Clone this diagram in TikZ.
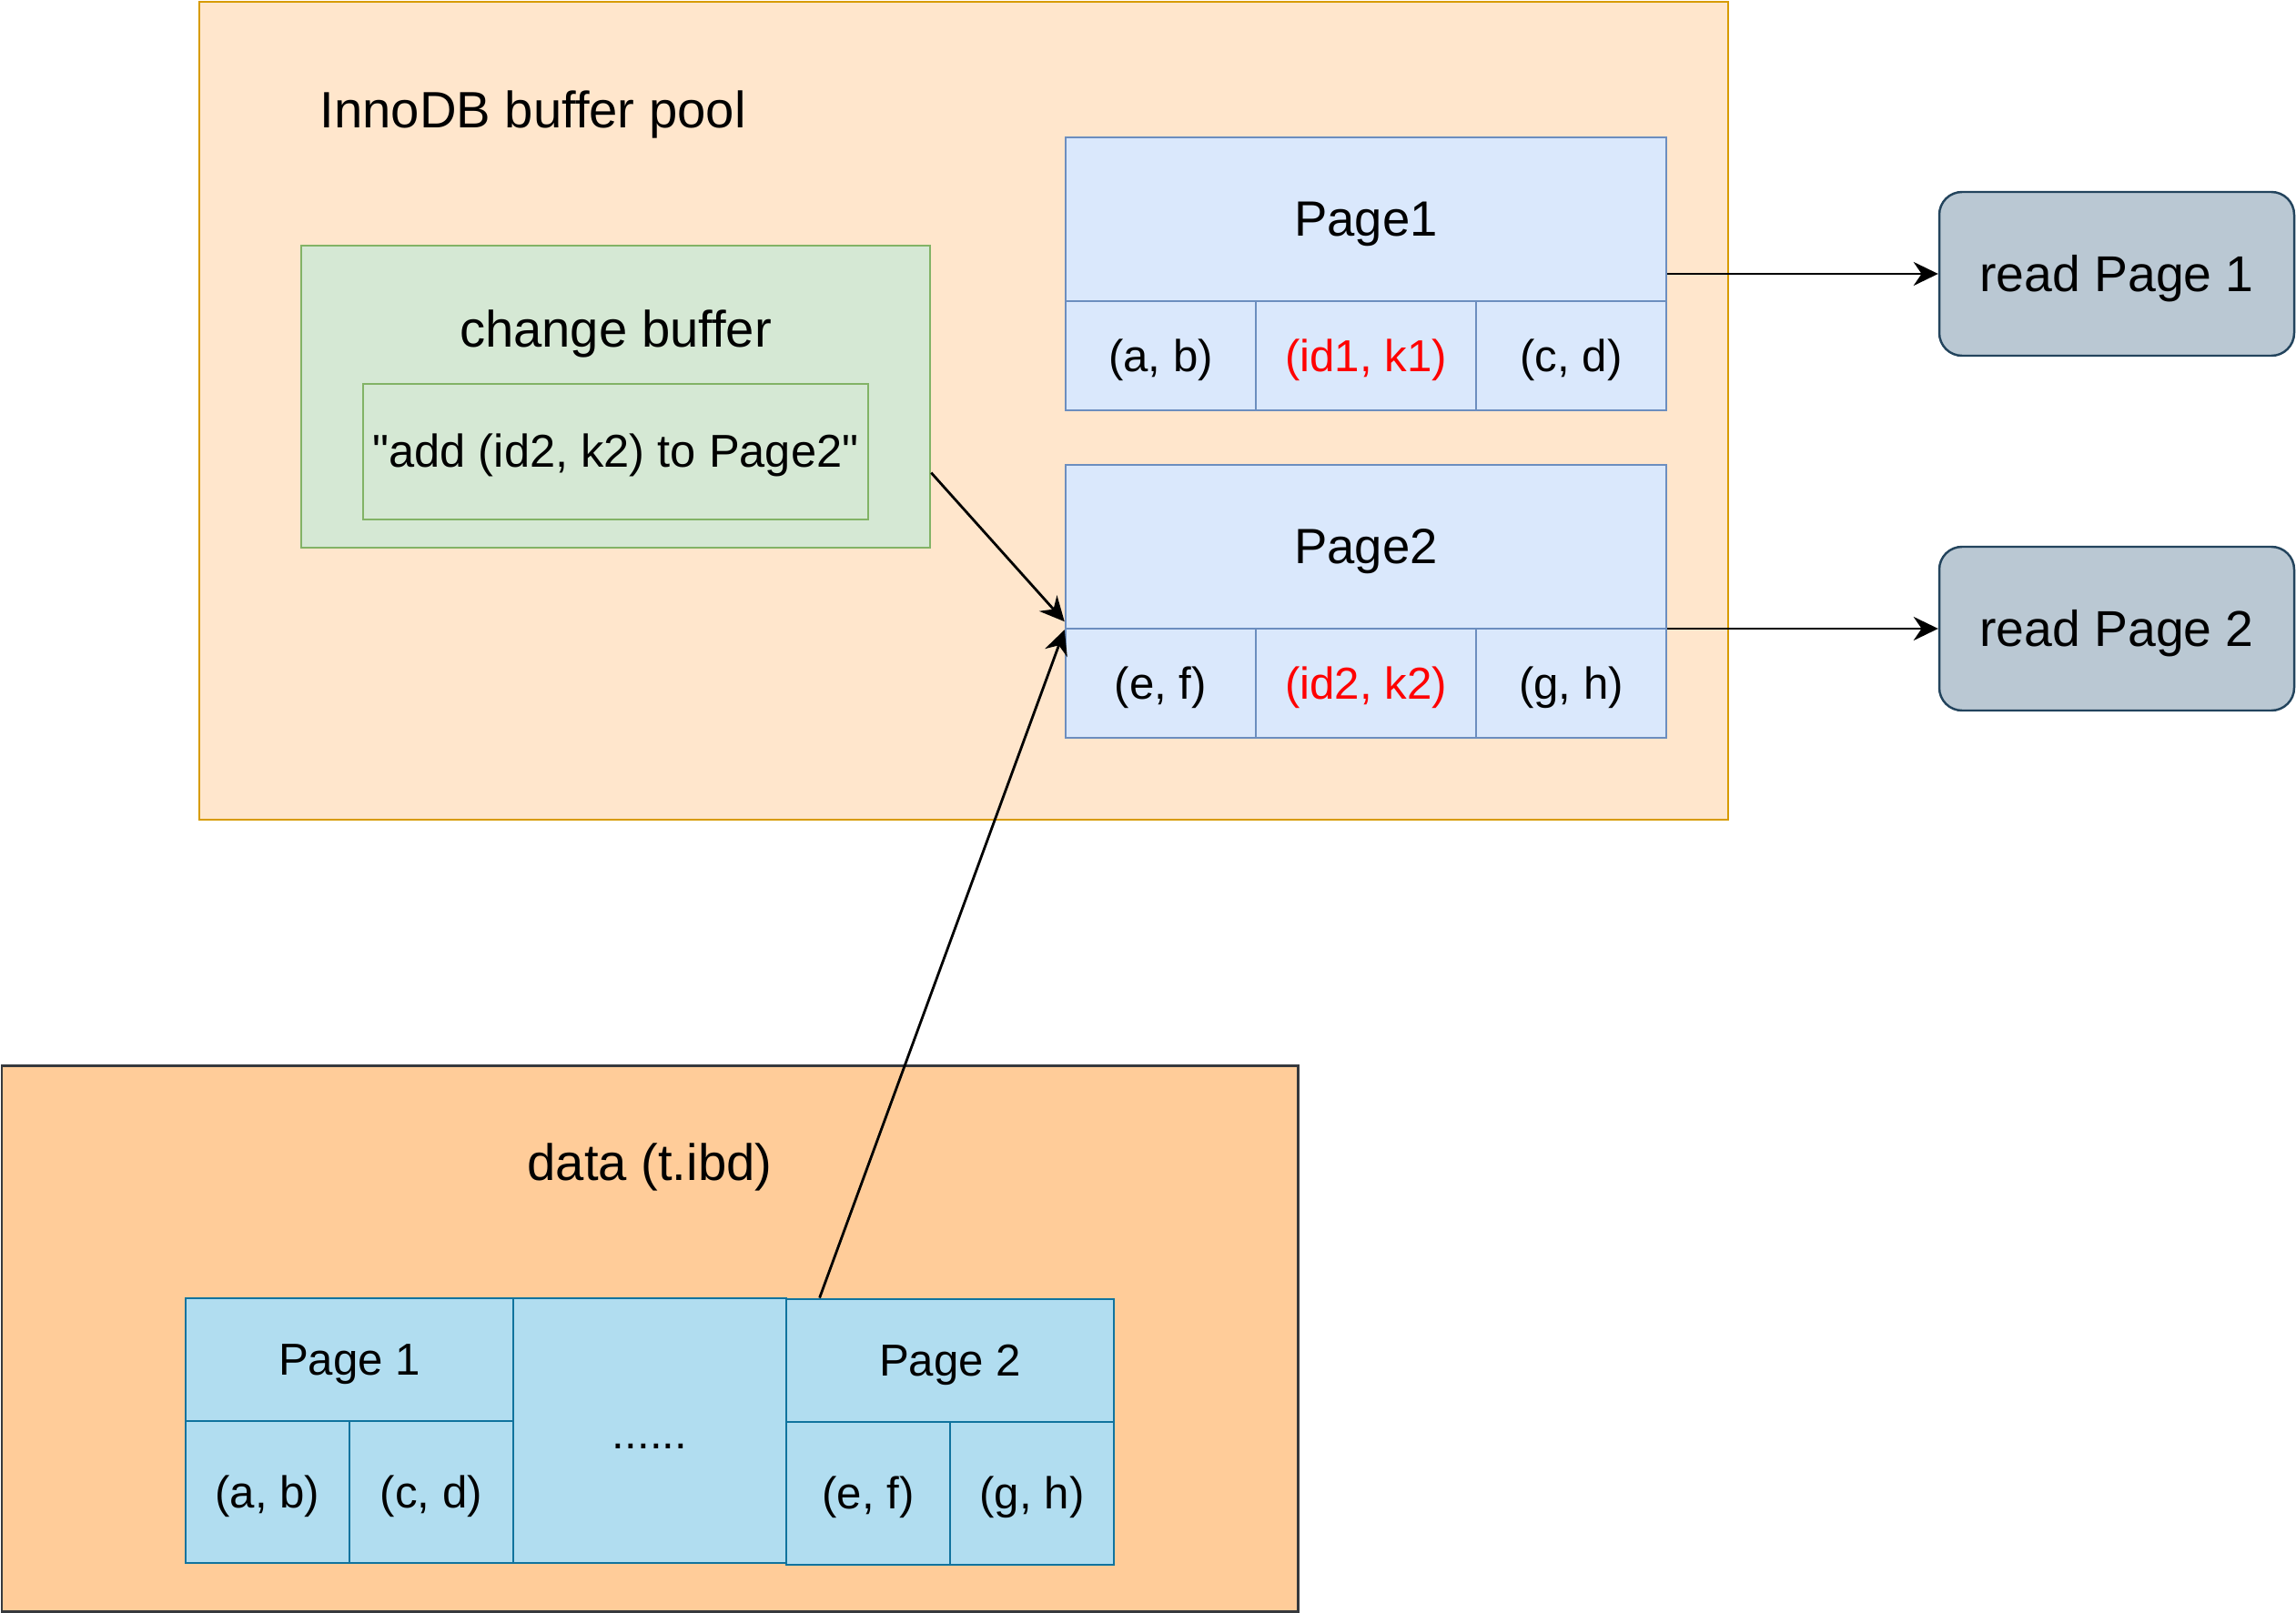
\documentclass[tikz,border=0pt]{standalone}
\usepackage{fontspec}
\setmainfont{Liberation Sans}
\usetikzlibrary{positioning,arrows.meta,calc}
\definecolor{ibPoolFill}{HTML}{FFE6CC}
\definecolor{ibPoolLine}{HTML}{D79B00}
\definecolor{ibCbFill}{HTML}{D5E8D4}
\definecolor{ibCbLine}{HTML}{82B366}
\definecolor{ibPageFill}{HTML}{DAE8FC}
\definecolor{ibPageLine}{HTML}{6C8EBF}
\definecolor{ibReadFill}{HTML}{BAC8D3}
\definecolor{ibReadLine}{HTML}{23445D}
\definecolor{ibDataFill}{HTML}{FFCC99}
\definecolor{ibDataLine}{HTML}{36393D}
\definecolor{ibDiskFill}{HTML}{B1DDF0}
\definecolor{ibDiskLine}{HTML}{10739E}
\definecolor{ibRed}{HTML}{FF0000}
\tikzset{
  ibbox/.style={rectangle, draw, line width=0.7pt, inner sep=0pt},
  ibtitle/.style={font=\fontsize{16}{19}\selectfont, inner sep=0pt, text height=14.5pt, text depth=3.4pt},
  ibpool/.style={ibbox, fill=ibPoolFill, draw=ibPoolLine, minimum width=16.8cm, minimum height=8.99cm},
  ibcb/.style={ibbox, fill=ibCbFill, draw=ibCbLine, minimum width=6.91cm, minimum height=3.32cm},
  ibcbentry/.style={ibbox, fill=ibCbFill, draw=ibCbLine, minimum width=5.55cm, minimum height=1.49cm,
                    font=\fontsize{14.4}{17}\selectfont, text height=13pt, text depth=3.05pt},
  ibhead/.style={ibbox, fill=ibPageFill, draw=ibPageLine, minimum width=6.6cm, minimum height=1.8cm,
                 font=\fontsize{15.5}{18}\selectfont, text height=14pt, text depth=3.3pt},
  ibcell/.style={ibbox, fill=ibPageFill, draw=ibPageLine, minimum height=1.2cm,
                 font=\fontsize{14}{17}\selectfont, text height=12.7pt, text depth=3pt},
  ibread/.style={ibbox, fill=ibReadFill, draw=ibReadLine, rounded corners=0.25cm,
                 minimum width=3.9cm, minimum height=1.8cm, font=\fontsize{15.75}{19}\selectfont,
                 text height=14.25pt, text depth=3.34pt},
  ibdata/.style={ibbox, fill=ibDataFill, draw=ibDataLine, line width=0.85pt,
                 minimum width=14.24cm, minimum height=6cm},
  ibdisk/.style={ibbox, fill=ibDiskFill, draw=ibDiskLine, line width=0.8pt,
                 font=\fontsize{14}{17}\selectfont, text height=12.7pt, text depth=3pt},
  ibarr/.style={-{Stealth[length=2.7mm, width=2.6mm]}, line width=0.8pt},
}

\begin{document}
\begin{tikzpicture}
  \useasboundingbox (0,0) rectangle (25.23,-17.73);
  % buffer pool
  \node[ibpool] (pool) at (10.59,-4.515) {};
  \node[ibtitle, anchor=west] (poollab) at (3.51,-1.21) {InnoDB buffer pool};
  \node[ibcb] (cb) at (6.765,-4.36) {};
  \node[ibtitle] (cblab) at (6.765,-3.62) {change buffer};
  \node[ibcbentry] (cbentry) at (6.765,-4.965) {\textquotedbl add (id2, k2) to Page2\textquotedbl};
  % pages in memory
  \node[ibhead] (p1h) at (15.01,-2.41) {Page1};
  \node[ibcell, minimum width=2.09cm] (p1a) at (12.755,-3.91) {(a, b)};
  \node[ibcell, minimum width=2.42cm, text=ibRed] (p1b) at (15.01,-3.91) {(id1, k1)};
  \node[ibcell, minimum width=2.09cm] (p1c) at (17.265,-3.91) {(c, d)};
  \node[ibhead] (p2h) at (15.01,-6.01) {Page2};
  \node[ibcell, minimum width=2.09cm] (p2a) at (12.755,-7.51) {(e, f)};
  \node[ibcell, minimum width=2.42cm, text=ibRed] (p2b) at (15.01,-7.51) {(id2, k2)};
  \node[ibcell, minimum width=2.09cm] (p2c) at (17.265,-7.51) {(g, h)};
  % reads
  \node[ibread] (rd1) at (23.26,-3.01) {read Page 1};
  \node[ibread] (rd2) at (23.26,-6.91) {read Page 2};
  % data file
  \node[ibdata] (data) at (7.14,-14.71) {};
  \node[ibtitle] (datalab) at (7.14,-12.78) {data (t.ibd)};
  \node[ibdisk, minimum width=3.6cm, minimum height=1.35cm] (bp1h) at (3.84,-14.945) {Page 1};
  \node[ibdisk, minimum width=1.8cm, minimum height=1.56cm] (bp1a) at (2.94,-16.40) {(a, b)};
  \node[ibdisk, minimum width=1.8cm, minimum height=1.56cm] (bp1b) at (4.74,-16.40) {(c, d)};
  \node[ibdisk, minimum width=3cm, minimum height=2.91cm, text height=13.5pt, text depth=2.1pt] (bdots) at (7.14,-15.725) {......};
  \node[ibdisk, minimum width=3.6cm, minimum height=1.35cm] (bp2h) at (10.44,-14.955) {Page 2};
  \node[ibdisk, minimum width=1.8cm, minimum height=1.57cm] (bp2a) at (9.54,-16.415) {(e, f)};
  \node[ibdisk, minimum width=1.8cm, minimum height=1.57cm] (bp2b) at (11.34,-16.415) {(g, h)};
  % arrows
  \draw[ibarr] (rd1.west -| p1h.east) -- (rd1.west);
  \draw[ibarr] (rd2.west -| p2h.east) -- (rd2.west);
  \draw[ibarr] ($(cb.south east)!0.25!(cb.north east)$) -- ([yshift=0.09cm]p2h.south west);
  \draw[ibarr] ([xshift=0.38cm]bp2h.north west) -- (p2h.south west);
\end{tikzpicture}
\end{document}
